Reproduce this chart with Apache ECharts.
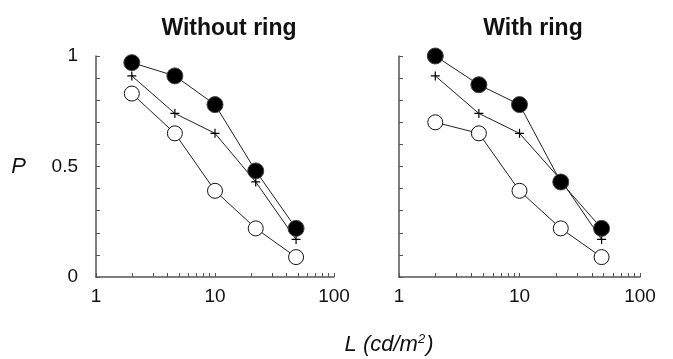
<!DOCTYPE html>
<html lang="en">
<head>
  <meta charset="UTF-8">
  <title>P vs L</title>
  <script src="https://cdn.jsdelivr.net/npm/echarts@6/dist/echarts.min.js"></script>
  <style>
    html, body { margin: 0; padding: 0; background: #fff; }
    #main { width: 673px; height: 359px; }
  </style>
</head>
<body>
  <div id="main"></div>
  <script>
    // luminance levels (cd/m2)
    var lumLevels = [2, 4.6, 10, 22, 48];

    // without ring
    var noRingFilled = [0.97, 0.91, 0.78, 0.48, 0.22];
    var noRingPlus   = [0.91, 0.74, 0.65, 0.43, 0.17];
    var noRingOpen   = [0.83, 0.65, 0.39, 0.22, 0.09];

    // with ring
    var ringFilled = [1.0, 0.87, 0.78, 0.43, 0.22];
    var ringPlus   = [0.91, 0.74, 0.65, 0.44, 0.17];
    var ringOpen   = [0.70, 0.65, 0.39, 0.22, 0.09];

    // ticks
    var xTicks = [1, 2, 3, 4, 5, 6, 7, 8, 9, 10, 20, 30, 40, 50, 60, 70, 80, 90, 100];
    var xLabels = [1, 10, 100];
    var yTicks = [0, 0.1, 0.2, 0.3, 0.4, 0.5, 0.6, 0.7, 0.8, 0.9, 1];
    var yLabels = [0, 0.5, 1];

    var font = 'Liberation Sans, Arial, sans-serif';
    var axisCol = '#555';

    function pairs(ys) {
      return lumLevels.map(function (x, i) { return [x, ys[i]]; });
    }

    function xAxis(idx) {
      return {
        type: 'log', logBase: 10, min: 1, max: 100, gridIndex: idx,
        axisLine: { lineStyle: { color: axisCol, width: 1.5 } },
        axisTick: { inside: true, length: 4, customValues: xTicks, lineStyle: { color: axisCol } },
        axisLabel: { customValues: xLabels, color: '#111', fontSize: 19, fontFamily: font, margin: 10 },
        splitLine: { show: false }, minorTick: { show: false }
      };
    }

    function yAxis(idx, showLabel) {
      return {
        type: 'value', min: 0, max: 1, gridIndex: idx,
        name: showLabel ? 'P' : '',
        nameLocation: 'middle', nameRotate: 0, nameGap: 70,
        nameTextStyle: { fontStyle: 'italic', fontSize: 22, fontFamily: font, color: '#111' },
        axisLine: { show: true, lineStyle: { color: axisCol, width: 1.5 } },
        axisTick: { show: true, inside: true, length: 4, customValues: yTicks, lineStyle: { color: axisCol } },
        axisLabel: { show: showLabel, customValues: yLabels, color: '#111', fontSize: 19, fontFamily: font, margin: 18 },
        splitLine: { show: false }
      };
    }

    function openSeries(idx, ys) {
      return {
        type: 'line', xAxisIndex: idx, yAxisIndex: idx, data: pairs(ys),
        symbol: 'circle', symbolSize: 15, z: 2,
        lineStyle: { color: '#222', width: 1 },
        itemStyle: { color: '#fff', borderColor: '#111', borderWidth: 1 }
      };
    }

    function plusSeries(idx, ys) {
      return {
        type: 'line', xAxisIndex: idx, yAxisIndex: idx, data: pairs(ys),
        symbol: 'path://M0,5L10,5M5,0L5,10', symbolSize: 9, z: 3,
        lineStyle: { color: '#222', width: 1 },
        itemStyle: { color: '#000', borderColor: '#000', borderWidth: 1.2 }
      };
    }

    function filledSeries(idx, ys) {
      return {
        type: 'line', xAxisIndex: idx, yAxisIndex: idx, data: pairs(ys),
        symbol: 'circle', symbolSize: 16, z: 4,
        lineStyle: { color: '#222', width: 1 },
        itemStyle: { color: '#000', borderColor: '#444', borderWidth: 1 }
      };
    }

    var chart = echarts.init(document.getElementById('main'));

    var option = {
      animation: false,
      backgroundColor: '#fff',
      title: [
        { text: 'Without ring', left: 224, top: 12, textAlign: 'center',
          textStyle: { fontSize: 23, fontWeight: 'bold', fontFamily: font, color: '#111' } },
        { text: 'With ring', left: 528, top: 12, textAlign: 'center',
          textStyle: { fontSize: 23, fontWeight: 'bold', fontFamily: font, color: '#111' } },
        { text: '{i|L (cd/m}{s|2}{i|)}', left: 384, top: 328, textAlign: 'center',
          textStyle: {
            fontWeight: 'normal',
            rich: {
              i: { fontSize: 22, lineHeight: 24, fontStyle: 'italic', fontWeight: 'normal', fontFamily: font, color: '#111' },
              s: { fontSize: 13, lineHeight: 24, fontStyle: 'italic', fontWeight: 'normal', fontFamily: font, color: '#111',
                   verticalAlign: 'bottom', padding: [0, 1, 11, 0] }
            }
          } }
      ],
      grid: [
        { left: 96, top: 56, width: 238, height: 221 },
        { left: 399, top: 56, width: 241, height: 221 }
      ],
      xAxis: [xAxis(0), xAxis(1)],
      yAxis: [yAxis(0, true), yAxis(1, false)],
      series: [
        openSeries(0, noRingOpen),
        plusSeries(0, noRingPlus),
        filledSeries(0, noRingFilled),
        openSeries(1, ringOpen),
        plusSeries(1, ringPlus),
        filledSeries(1, ringFilled)
      ]
    };

    chart.setOption(option);
  </script>
</body>
</html>
